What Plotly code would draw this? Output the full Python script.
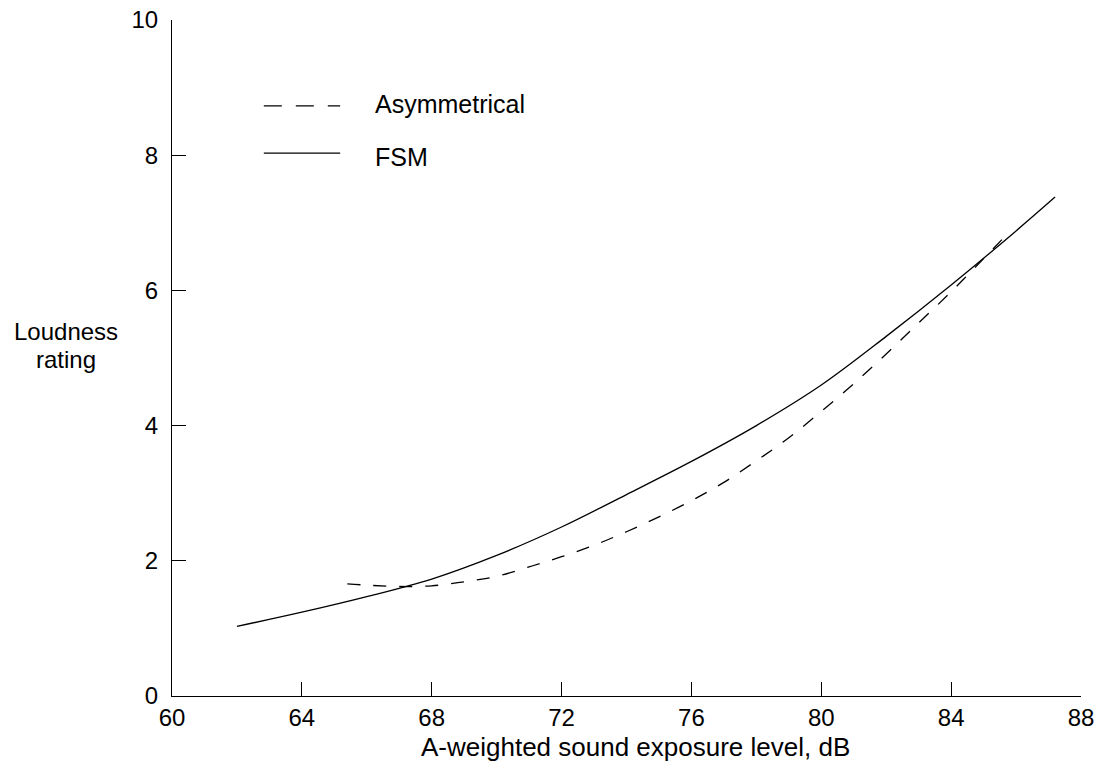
import plotly.graph_objects as go

fsm_x = [62, 64, 66, 68, 70, 72, 74, 76, 78, 80, 82, 84, 86, 87.2]
fsm_y = [1.03, 1.24, 1.47, 1.73, 2.08, 2.50, 2.98, 3.47, 4.00, 4.60, 5.32, 6.08, 6.88, 7.38]

asym_x = [65.4, 66, 67, 68, 69, 70, 71, 72, 73, 74, 75, 76, 77, 78, 79, 80, 81, 82, 83, 84, 85, 85.6]
asym_y = [1.66, 1.64, 1.62, 1.63, 1.69, 1.77, 1.91, 2.06, 2.23, 2.43, 2.65, 2.89, 3.16, 3.48,
          3.82, 4.21, 4.62, 5.06, 5.52, 5.98, 6.47, 6.77]

x_ticks = [60, 64, 68, 72, 76, 80, 84, 88]
y_ticks = [0, 2, 4, 6, 8, 10]

FONT = "Liberation Sans, Arial, Helvetica, sans-serif"

fig = go.Figure()
fig.add_trace(go.Scatter(x=fsm_x, y=fsm_y, mode="lines", name="FSM",
                         line=dict(color="black", width=1.3, shape="spline"),
                         showlegend=False))
fig.add_trace(go.Scatter(x=asym_x, y=asym_y, mode="lines", name="Asymmetrical",
                         line=dict(color="black", width=1.3, dash="13px,13px", shape="spline"),
                         showlegend=False))

# legend drawn in paper coordinates
fig.add_shape(type="line", xref="paper", yref="paper", x0=0.101, x1=0.185, y0=0.873, y1=0.873,
              line=dict(color="black", width=1.2, dash="18px,14px"))
fig.add_shape(type="line", xref="paper", yref="paper", x0=0.101, x1=0.185, y0=0.803, y1=0.803,
              line=dict(color="black", width=1.2))
fig.add_annotation(xref="paper", yref="paper", x=0.221, y=0.876, text="Asymmetrical",
                   showarrow=False, xanchor="left", yanchor="middle",
                   font=dict(family=FONT, size=25, color="black"))
fig.add_annotation(xref="paper", yref="paper", x=0.221, y=0.798, text="FSM",
                   showarrow=False, xanchor="left", yanchor="middle",
                   font=dict(family=FONT, size=25, color="black"))

# axis titles
fig.add_annotation(xref="paper", yref="paper", x=-0.1166, y=0.5395, text="Loudness",
                   showarrow=False, xanchor="center", yanchor="middle",
                   font=dict(family=FONT, size=24, color="black"))
fig.add_annotation(xref="paper", yref="paper", x=-0.1166, y=0.4975, text="rating",
                   showarrow=False, xanchor="center", yanchor="middle",
                   font=dict(family=FONT, size=24, color="black"))
fig.add_annotation(xref="paper", yref="paper", x=0.510, y=-0.0754,
                   text="A-weighted sound exposure level, dB",
                   showarrow=False, xanchor="center", yanchor="middle",
                   font=dict(family=FONT, size=26, color="black"))

fig.update_layout(
    width=1101, height=764,
    margin=dict(l=172, r=20, t=20, b=68),
    paper_bgcolor="white", plot_bgcolor="white",
    font=dict(family=FONT, size=24, color="black"),
    showlegend=False,
)
fig.update_xaxes(range=[60, 88], tickvals=x_ticks, ticktext=[str(v) for v in x_ticks],
                 showgrid=False, zeroline=False, showline=True, linecolor="black", linewidth=1,
                 ticks="inside", ticklen=14, tickcolor="black", tickwidth=1,
                 ticklabeloverflow="allow", automargin=False,
                 tickfont=dict(family=FONT, size=24, color="black"))
fig.update_yaxes(range=[0, 10], tickvals=y_ticks, ticktext=[str(v) for v in y_ticks],
                 showgrid=False, zeroline=False, showline=True, linecolor="black", linewidth=1,
                 ticks="inside", ticklen=14, tickcolor="black", tickwidth=1,
                 ticklabelstandoff=8, ticklabeloverflow="allow", automargin=False,
                 tickfont=dict(family=FONT, size=24, color="black"))

# remove the default page margin so the figure fills the window exactly
fig.write_html("out.html",
               config={"displayModeBar": False},
               post_script="document.body.style.margin='0';document.body.style.overflow='hidden';")
